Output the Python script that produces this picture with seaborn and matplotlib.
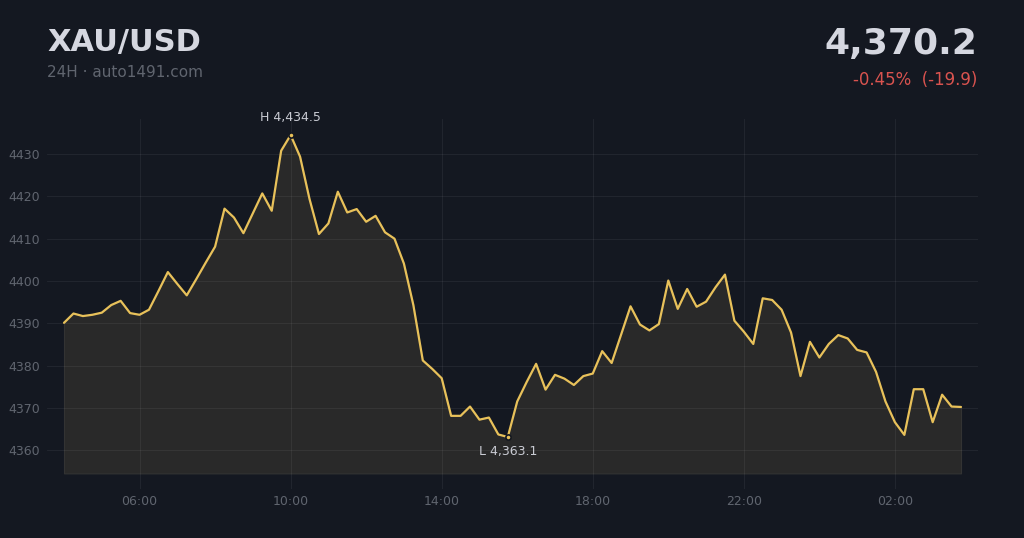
"""
XAU/USD 24H 走势图 —— 深色主题折线 + 面积填充。
输出：out.png
"""

import numpy as np
import pandas as pd
import matplotlib
matplotlib.use("Agg")
import matplotlib.pyplot as plt
import matplotlib.dates as mdates
import seaborn as sns

# ==========================================
# 数据（每 15 分钟一个点，04:00 起）
# ==========================================
START = "2024-01-01 04:00"
PRICES = [
    4390.1, 4392.3, 4391.7, 4392.0, 4392.5, 4394.3, 4395.3, 4392.4,
    4392.0, 4393.2, 4397.6, 4402.1, 4399.3, 4396.6, 4400.4, 4404.3,
    4408.1, 4417.1, 4415.0, 4411.3, 4416.0, 4420.7, 4416.6, 4430.8,
    4434.5, 4429.4, 4419.4, 4411.1, 4413.6, 4421.1, 4416.2, 4417.0,
    4414.0, 4415.4, 4411.5, 4410.0, 4404.1, 4394.3, 4381.2, 4379.2,
    4377.0, 4368.1, 4368.1, 4370.3, 4367.2, 4367.7, 4363.7, 4363.1,
    4371.5, 4376.1, 4380.4, 4374.3, 4377.8, 4376.9, 4375.4, 4377.5,
    4378.1, 4383.4, 4380.6, 4387.3, 4394.0, 4389.7, 4388.3, 4389.8,
    4400.1, 4393.4, 4398.1, 4393.9, 4395.1, 4398.5, 4401.5, 4390.6,
    4388.0, 4385.1, 4395.9, 4395.5, 4393.2, 4387.8, 4377.5, 4385.6,
    4381.9, 4385.1, 4387.2, 4386.4, 4383.7, 4383.1, 4378.5, 4371.5,
    4366.6, 4363.6, 4374.4, 4374.4, 4366.6, 4373.1, 4370.3, 4370.2,
]
Y_TICKS = [4360, 4370, 4380, 4390, 4400, 4410, 4420, 4430]
TICK_HOURS = [2, 6, 10, 14, 18, 22]

SYMBOL = "XAU/USD"
SUBTITLE = "24H · auto1491.com"

# 颜色
BG = "#141821"
LINE = "#e8c15a"
FILL = "#292929"
TXT = "#d5d7e0"
MUTED = "#60656f"
RED = "#d9534f"

# ==========================================
# 绘图
# ==========================================
df = pd.DataFrame({
    "time": pd.date_range(START, periods=len(PRICES), freq="15min"),
    "price": PRICES,
})

last = df["price"].iloc[-1]
first = df["price"].iloc[0]
chg = last - first
pct = 100.0 * chg / first
i_hi = int(df["price"].idxmax())
i_lo = int(df["price"].idxmin())

sns.set_theme(style="dark")
plt.rcParams["font.family"] = ["DejaVu Sans"]

fig = plt.figure(figsize=(10.24, 5.38), dpi=100, facecolor=BG)
ax = fig.add_axes([47 / 1024, 49 / 538, 931 / 1024, 370 / 538])
ax.set_facecolor(BG)

base = 4354.5
ax.fill_between(df["time"], df["price"], base, color=FILL,
                edgecolor="#333333", linewidth=0.8, zorder=0.3)
sns.lineplot(data=df, x="time", y="price", ax=ax, color=LINE,
             linewidth=1.6, zorder=3)

# 高低点
t_hi, p_hi = df["time"].iloc[i_hi], df["price"].iloc[i_hi]
t_lo, p_lo = df["time"].iloc[i_lo], df["price"].iloc[i_lo]
ax.scatter([t_hi, t_lo], [p_hi, p_lo], s=14, color=LINE,
           edgecolor=BG, linewidth=1.2, zorder=4)
ax.annotate(f"H {p_hi:,.1f}", (t_hi, p_hi), xytext=(0, 8),
            textcoords="offset points", ha="center", va="bottom",
            fontsize=9, color="#c9cbd3")
ax.annotate(f"L {p_lo:,.1f}", (t_lo, p_lo), xytext=(0, -6),
            textcoords="offset points", ha="center", va="top",
            fontsize=9, color="#c9cbd3")

# 坐标轴
pad = pd.Timedelta(minutes=27)
ax.set_xlim(df["time"].iloc[0] - pad, df["time"].iloc[-1] + pad)
ax.set_ylim(4350.8, 4438.3)
ax.set_yticks(Y_TICKS)
ax.xaxis.set_major_locator(mdates.HourLocator(byhour=TICK_HOURS))
ax.xaxis.set_major_formatter(mdates.DateFormatter("%H:%M"))
ax.tick_params(axis="both", colors=MUTED, labelsize=9, length=0)
ax.tick_params(axis="y", pad=5)
ax.tick_params(axis="x", pad=4)
ax.set_xlabel("")
ax.set_ylabel("")
ax.grid(True, color="white", alpha=0.06, linewidth=0.8)
ax.set_axisbelow(True)
for s in ax.spines.values():
    s.set_visible(False)

# 标题
fig.text(47 / 1024, 1 - 42 / 538, SYMBOL, fontsize=22, fontweight="bold",
         color=TXT, ha="left", va="center")
fig.text(47 / 1024, 1 - 73 / 538, SUBTITLE, fontsize=11, color=MUTED,
         ha="left", va="center")
fig.text(977 / 1024, 1 - 44 / 538, f"{last:,.1f}", fontsize=26,
         fontweight="bold", color=TXT, ha="right", va="center")
fig.text(977 / 1024, 1 - 80 / 538, f"{pct:+.2f}%  ({chg:+.1f})",
         fontsize=12, color=RED, ha="right", va="center")

fig.savefig("out.png", dpi=100, facecolor=BG)
plt.close(fig)
